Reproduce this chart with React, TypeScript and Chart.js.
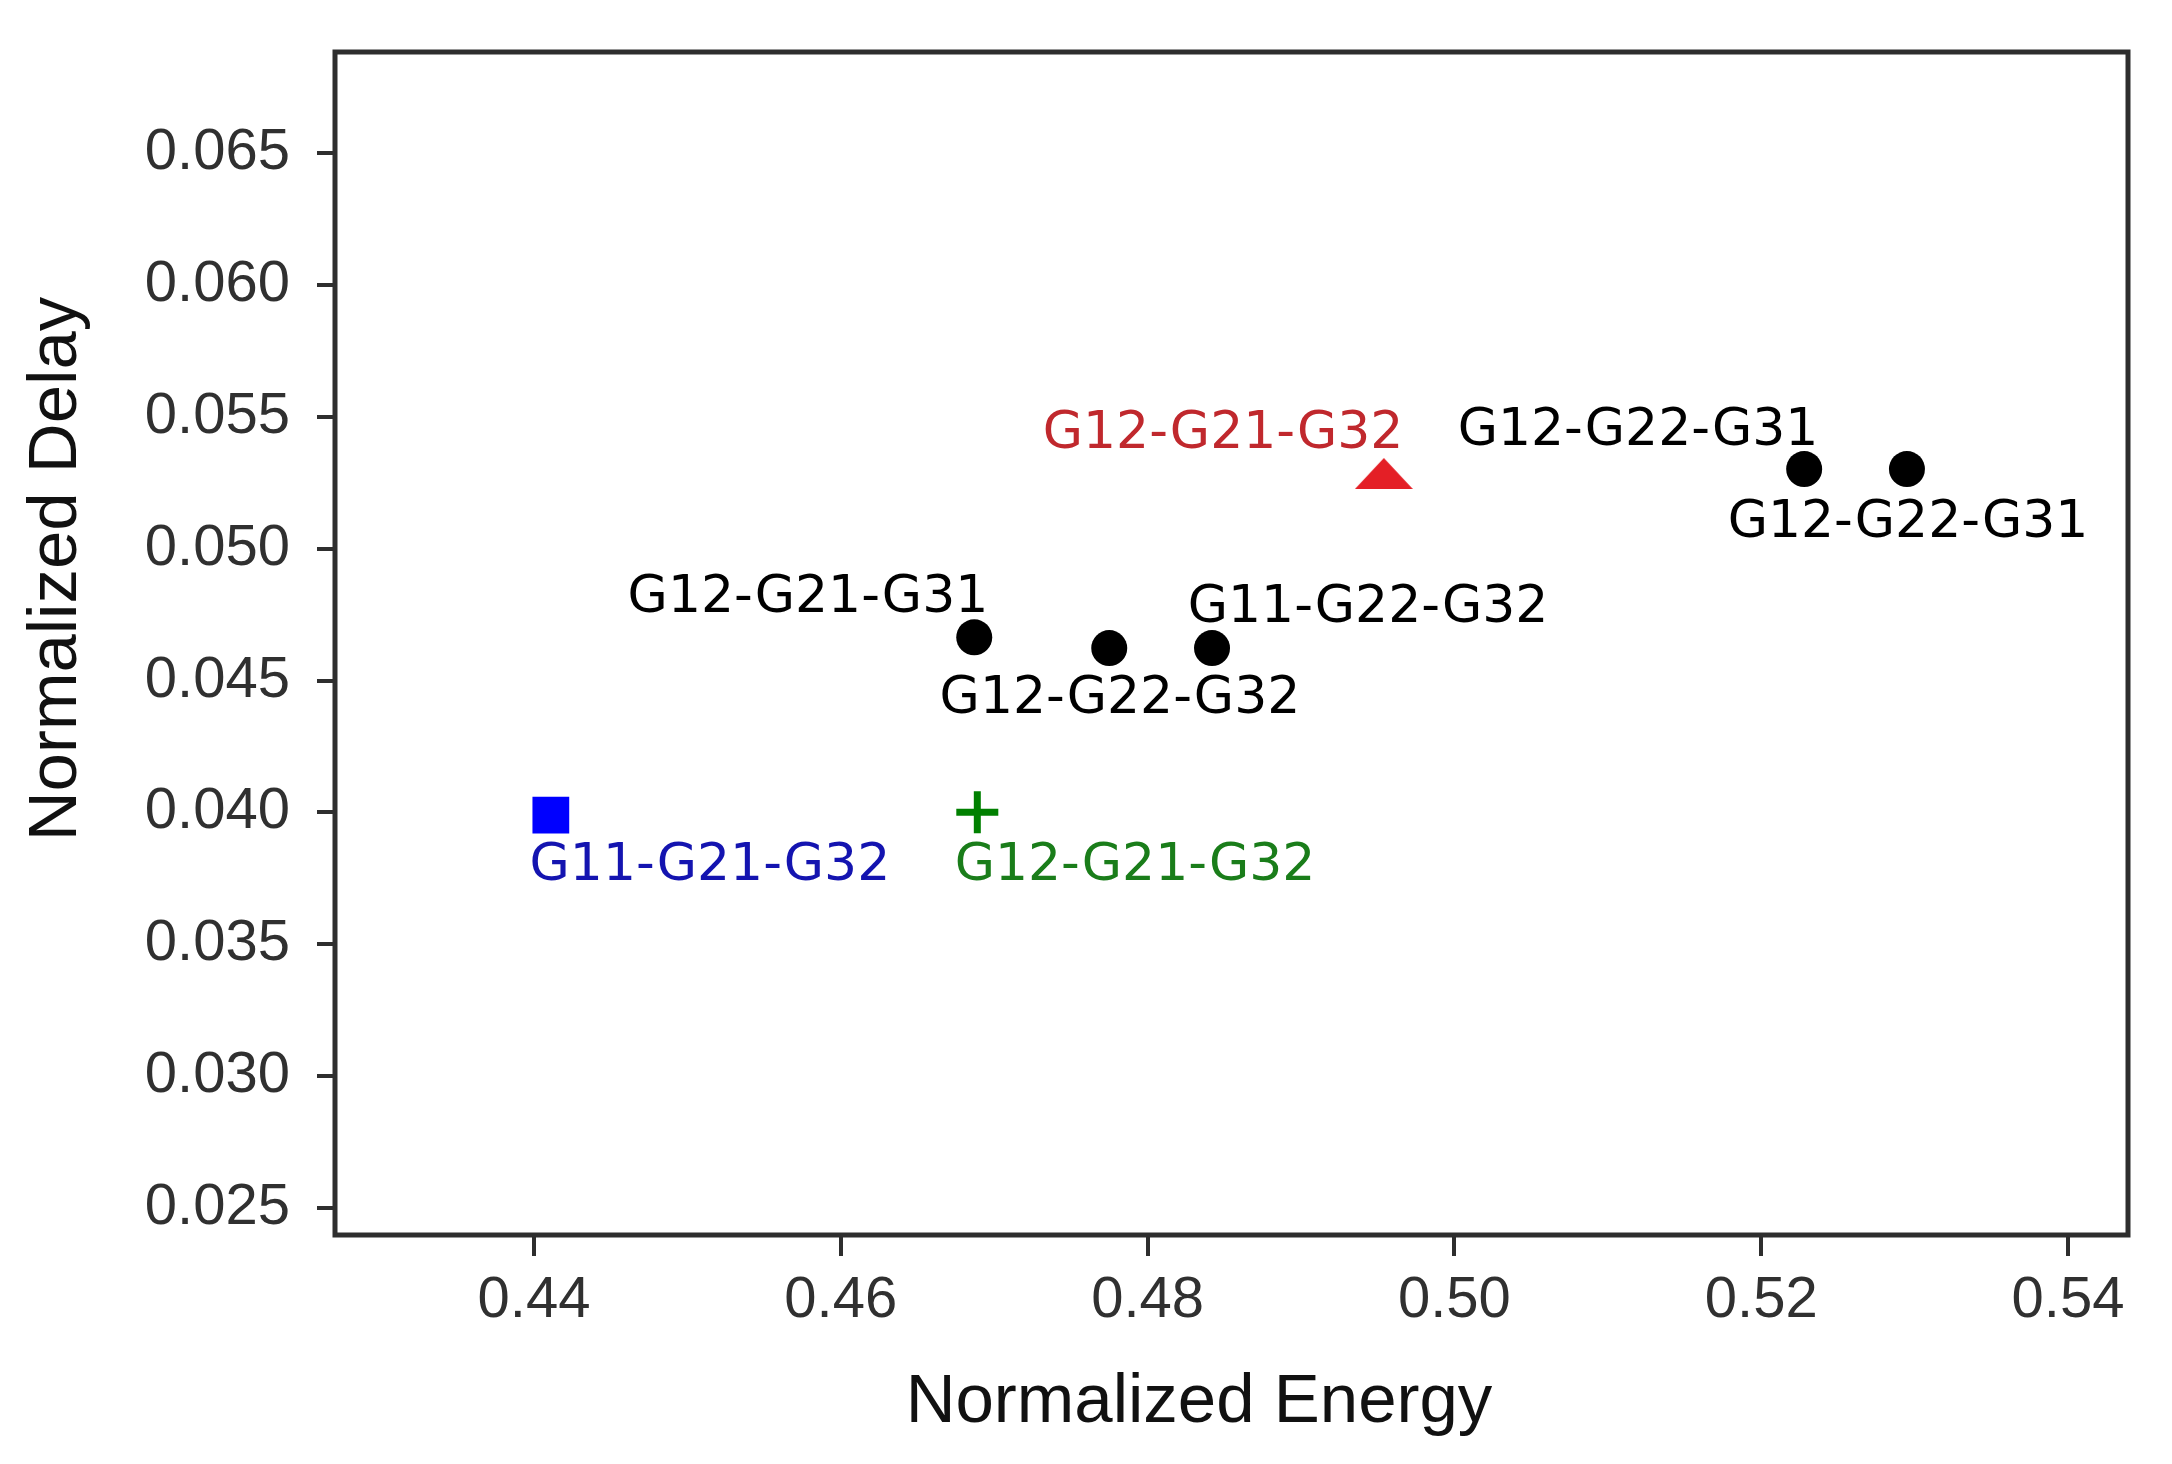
import React, { useEffect, useRef } from "react";
import { Chart, registerables } from "chart.js";

Chart.register(...registerables);

// ---- data ----
const circleX = [0.4687, 0.4775, 0.4842, 0.5228, 0.5295];
const circleY = [0.04664, 0.04623, 0.04623, 0.05302, 0.05302];
const squareX = [0.4411];
const squareY = [0.0399];
const plusX = [0.4689];
const plusY = [0.04001];
const triangleX = [0.4954];
const triangleY = [0.05285];

const labelTexts = [
  "G12-G21-G31",
  "G12-G22-G32",
  "G11-G22-G32",
  "G12-G21-G32",
  "G12-G22-G31",
  "G12-G22-G31",
  "G11-G21-G32",
  "G12-G21-G32",
];
const labelX = [0.45786, 0.4782, 0.49437, 0.48492, 0.51197, 0.52957, 0.45147, 0.47918];
const labelY = [0.04812, 0.04429, 0.04772, 0.05434, 0.05445, 0.05096, 0.03796, 0.03796];
const labelColors = ["#000000", "#000000", "#000000", "#c0282d", "#000000", "#000000", "#1414b0", "#1a7d1a"];

const xTicks = [0.44, 0.46, 0.48, 0.5, 0.52, 0.54];
const yTicks = [0.025, 0.03, 0.035, 0.04, 0.045, 0.05, 0.055, 0.06, 0.065];
const xRange = [0.42703, 0.54391];
const yRange = [0.02398, 0.06883];

const xTitle = "Normalized Energy";
const yTitle = "Normalized Delay";

const toPoints = (xs: number[], ys: number[]) => xs.map((x, i) => ({ x, y: ys[i] }));

export default function App() {
  const ref = useRef<HTMLCanvasElement | null>(null);

  useEffect(() => {
    const canvas = ref.current;
    if (!canvas) return;

    const tri = document.createElement("canvas");
    tri.width = 58;
    tri.height = 31;
    const tc = tri.getContext("2d")!;
    tc.fillStyle = "#e41f26";
    tc.beginPath();
    tc.moveTo(29, 0);
    tc.lineTo(58, 31);
    tc.lineTo(0, 31);
    tc.closePath();
    tc.fill();

    const framePlugin = {
      id: "frameAndText",
      afterDatasetsDraw(chart: any) {
        const { ctx, chartArea, scales } = chart;
        ctx.save();
        // labels
        ctx.font = '52px "DejaVu Sans"';
        ctx.textAlign = "center";
        ctx.textBaseline = "middle";
        labelTexts.forEach((t, i) => {
          ctx.fillStyle = labelColors[i];
          ctx.fillText(t, scales.x.getPixelForValue(labelX[i]), scales.y.getPixelForValue(labelY[i]));
        });
        // frame
        ctx.strokeStyle = "#2e2e2e";
        ctx.lineWidth = 5;
        ctx.strokeRect(chartArea.left, chartArea.top, chartArea.right - chartArea.left, chartArea.bottom - chartArea.top);
        // axis titles
        ctx.fillStyle = "#111111";
        ctx.font = '69px "Liberation Sans"';
        ctx.textAlign = "center";
        ctx.textBaseline = "middle";
        ctx.fillText(xTitle, chartArea.left + 864, chartArea.bottom + 168);
        ctx.translate(57, chartArea.top + 517);
        ctx.rotate(-Math.PI / 2);
        ctx.fillText(yTitle, 0, 0);
        ctx.restore();
      },
    };

    const chart = new Chart(canvas, {
      type: "scatter",
      data: {
        datasets: [
          {
            data: toPoints(circleX, circleY),
            pointStyle: "circle",
            pointRadius: 18,
            backgroundColor: "#000000",
            borderColor: "#000000",
            borderWidth: 0,
          },
          {
            data: toPoints(squareX, squareY),
            pointStyle: "rect",
            pointRadius: 26,
            backgroundColor: "#0000ff",
            borderColor: "#0000ff",
            borderWidth: 0,
          },
          {
            data: toPoints(plusX, plusY),
            pointStyle: "cross",
            pointRadius: 21,
            backgroundColor: "#008000",
            borderColor: "#008000",
            borderWidth: 7,
          },
          {
            data: toPoints(triangleX, triangleY),
            pointStyle: tri as any,
            pointRadius: 20,
            backgroundColor: "#e41f26",
            borderColor: "#e41f26",
          },
        ],
      },
      options: {
        animation: false,
        responsive: false,
        devicePixelRatio: 1,
        layout: { padding: { left: 0, top: 52, right: 44, bottom: 0 } },
        plugins: { legend: { display: false }, tooltip: { enabled: false } },
        scales: {
          x: {
            type: "linear",
            min: xRange[0],
            max: xRange[1],
            afterFit: (s: any) => {
              s.height = 229;
              s.paddingLeft = 0;
              s.paddingRight = 0;
            },
            afterBuildTicks: (s: any) => {
              s.ticks = xTicks.map((v) => ({ value: v }));
            },
            grid: { display: true, drawOnChartArea: false, drawTicks: true, tickLength: 21, color: "#2e2e2e", lineWidth: 4 },
            border: { display: false },
            ticks: {
              color: "#303030",
              font: { family: "Liberation Sans", size: 58 },
              padding: 10,
              maxRotation: 0,
              callback: (v: any) => Number(v).toFixed(2),
            },
          },
          y: {
            type: "linear",
            min: yRange[0],
            max: yRange[1],
            afterFit: (s: any) => {
              s.width = 335;
              s.paddingTop = 0;
              s.paddingBottom = 0;
            },
            afterBuildTicks: (s: any) => {
              s.ticks = yTicks.map((v) => ({ value: v }));
            },
            grid: { display: true, drawOnChartArea: false, drawTicks: true, tickLength: 18, color: "#2e2e2e", lineWidth: 4 },
            border: { display: false },
            ticks: {
              color: "#303030",
              font: { family: "Liberation Sans", size: 58 },
              padding: 27,
              callback: (v: any) => Number(v).toFixed(3),
            },
          },
        },
      },
      plugins: [framePlugin],
    });

    return () => chart.destroy();
  }, []);

  return (
    <div style={{ position: "absolute", left: 0, top: 0, width: 2172, height: 1464, background: "#ffffff" }}>
      <canvas ref={ref} width={2172} height={1464} style={{ display: "block", width: 2172, height: 1464 }} />
    </div>
  );
}
